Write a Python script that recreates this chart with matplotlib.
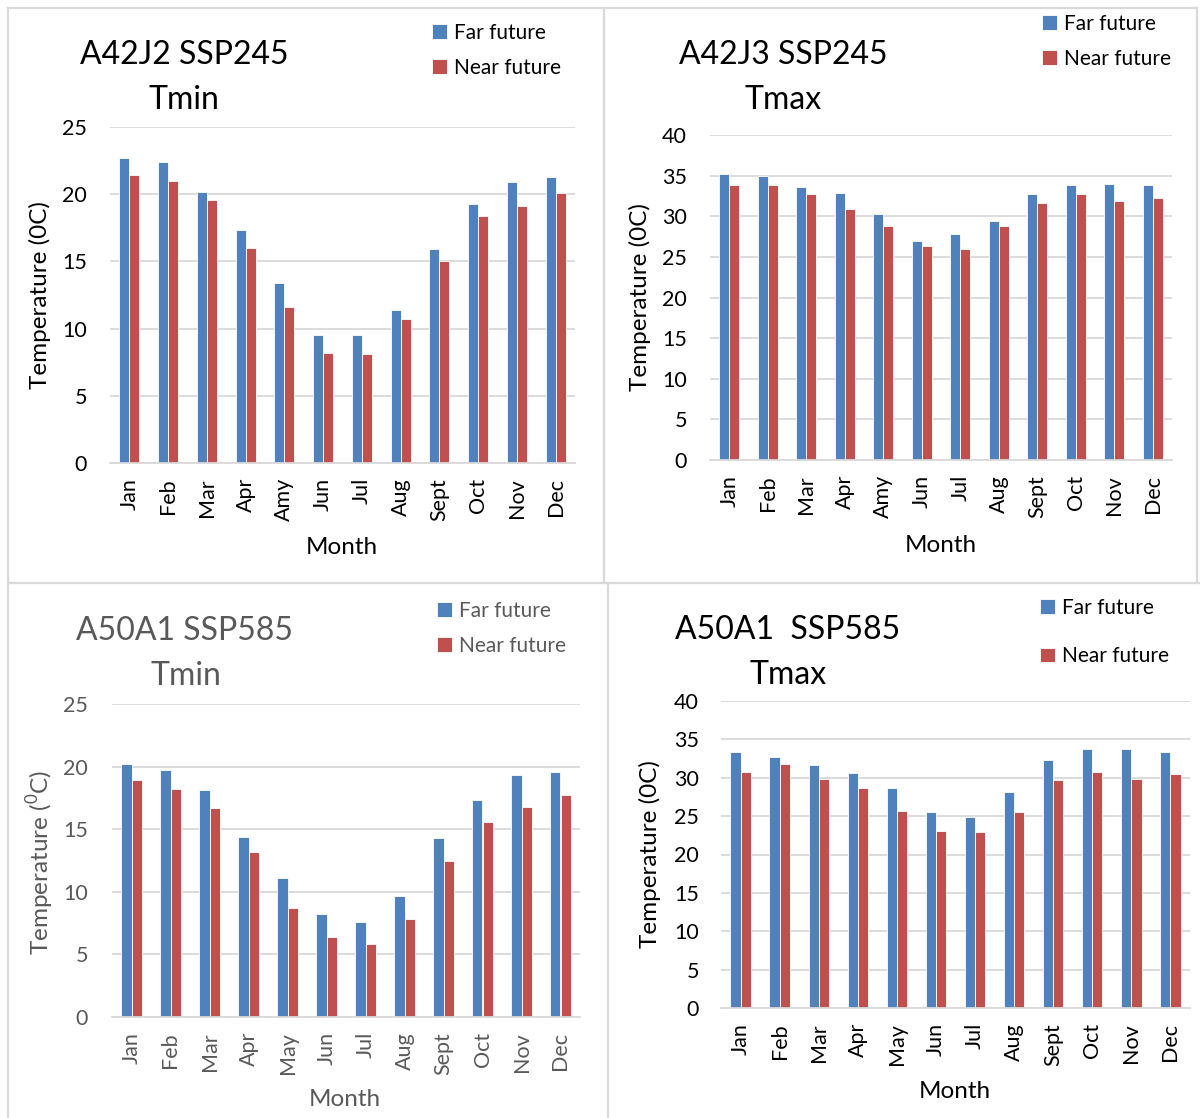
import numpy as np
import matplotlib
matplotlib.use("Agg")
import matplotlib.pyplot as plt
from matplotlib.lines import Line2D

plt.rcParams['font.family'] = ['Lato', 'DejaVu Sans']
plt.rcParams['mathtext.fontset'] = 'custom'
plt.rcParams['mathtext.rm'] = 'Lato'

# monthly mean temperatures, far future vs near future
months_a = ["Jan", "Feb", "Mar", "Apr", "Amy", "Jun", "Jul", "Aug", "Sept", "Oct", "Nov", "Dec"]
months_b = ["Jan", "Feb", "Mar", "Apr", "May", "Jun", "Jul", "Aug", "Sept", "Oct", "Nov", "Dec"]

a42j2_tmin_far = [22.7, 22.4, 20.2, 17.3, 13.4, 9.5, 9.5, 11.4, 15.9, 19.3, 20.9, 21.3]
a42j2_tmin_near = [21.4, 21.0, 19.6, 16.0, 11.6, 8.2, 8.1, 10.7, 15.0, 18.4, 19.1, 20.1]

a42j3_tmax_far = [35.2, 34.9, 33.6, 32.9, 30.3, 27.0, 27.8, 29.4, 32.7, 33.9, 34.0, 33.9]
a42j3_tmax_near = [33.9, 33.8, 32.8, 30.9, 28.8, 26.4, 26.0, 28.8, 31.6, 32.8, 31.9, 32.2]

a50a1_tmin_far = [20.2, 19.7, 18.1, 14.4, 11.1, 8.2, 7.6, 9.7, 14.3, 17.3, 19.3, 19.6]
a50a1_tmin_near = [18.9, 18.2, 16.7, 13.2, 8.7, 6.4, 5.8, 7.8, 12.5, 15.6, 16.8, 17.7]

a50a1_tmax_far = [33.3, 32.7, 31.7, 30.6, 28.6, 25.5, 24.9, 28.2, 32.3, 33.7, 33.7, 33.3]
a50a1_tmax_near = [30.8, 31.8, 29.8, 28.7, 25.7, 23.0, 22.9, 25.6, 29.7, 30.8, 29.8, 30.5]

W, H = 1200, 1118
BLUE = "#4F81BD"
RED = "#C0504D"
GRID = "#D9D9D9"

fig = plt.figure(figsize=(W / 100, H / 100), dpi=100)


def fx(px):
    return px / W


def fy(py):
    return 1 - py / H


def panel(box, months, far, near, ymax, title, sub, ylab, tcol, ttl, legend_pos, leg_space,
          ylab_pos, month_pos, ypad, xpad):
    l, t, r, b = box
    ax = fig.add_axes([fx(l), fy(b), fx(r) - fx(l), fy(t) - fy(b)])
    x = np.arange(len(months))
    w = 0.26
    ax.bar(x - w / 2, far, w, color=BLUE, edgecolor="white", linewidth=0.6, label="Far future")
    ax.bar(x + w / 2, near, w, color=RED, edgecolor="white", linewidth=0.6, label="Near future")
    ax.set_xlim(-0.5, len(months) - 0.5)
    ax.set_ylim(0, ymax)
    ax.set_yticks(np.arange(0, ymax + 1, 5))
    ax.set_xticks(x)
    ax.set_xticklabels(months, rotation=90, fontsize=15.5, color=tcol)
    # pads given in pixels, tick_params wants points
    ax.tick_params(axis="y", length=0, pad=ypad * 0.72, labelsize=15.5, labelcolor=tcol)
    ax.tick_params(axis="x", length=0, pad=xpad * 0.72)
    ax.yaxis.grid(True, color=GRID, linewidth=1.3)
    ax.set_axisbelow(True)
    for s in ["left", "right", "top"]:
        ax.spines[s].set_visible(False)
    ax.spines["bottom"].set_color(GRID)
    ax.spines["bottom"].set_linewidth(1.3)

    fig.text(fx(ttl[0]), fy(ttl[1]), title, fontsize=23, color=tcol, ha="center", va="center")
    fig.text(fx(ttl[2]), fy(ttl[3]), sub, fontsize=23, color=tcol, ha="center", va="center")
    fig.text(fx(ylab_pos[0]), fy(ylab_pos[1]), ylab, fontsize=17.5, color=tcol,
             rotation=90, ha="center", va="center")
    fig.text(fx(month_pos[0]), fy(month_pos[1]), "Month", fontsize=17.5, color=tcol,
             ha="center", va="center")

    leg = ax.legend(loc="upper left", bbox_to_anchor=(fx(legend_pos[0]), fy(legend_pos[1])),
                    bbox_transform=fig.transFigure, frameon=False, fontsize=15,
                    handlelength=0.7, handleheight=0.7, handletextpad=0.35,
                    labelspacing=leg_space, borderpad=0, borderaxespad=0)
    for txt in leg.get_texts():
        txt.set_color(tcol)
    return ax


panel((110, 127, 575, 463), months_a, a42j2_tmin_far, a42j2_tmin_near, 25,
      "A42J2 SSP245", "Tmin", "Temperature (0C)", "black", (184, 55, 184, 100),
      (432, 23), 0.72, (40, 295), (342, 548), 23, 15)

panel((710, 135, 1172, 460), months_a, a42j3_tmax_far, a42j3_tmax_near, 40,
      "A42J3 SSP245", "Tmax", "Temperature (0C)", "black", (783, 55, 783, 100),
      (1042, 14), 0.72, (640, 297), (941, 546), 23, 15)

panel((112, 704, 580, 1017), months_b, a50a1_tmin_far, a50a1_tmin_near, 25,
      "A50A1 SSP585", "Tmin", "Temperature ($^{0}$C)", "#595959", (185, 631, 186, 676),
      (437, 601), 0.72, (40, 862), (345, 1100), 24, 15)

panel((721, 701, 1190, 1008), months_b, a50a1_tmax_far, a50a1_tmax_near, 40,
      "A50A1  SSP585", "Tmax", "Temperature (0C)", "black", (788, 630, 788, 675),
      (1040, 598), 1.35, (650, 854), (955, 1092), 22, 15)

# chart frames
frames = [
    ((7.5, 1197), (7.5, 7.5)),
    ((7.5, 7.5), (7.5, 1118)),
    ((603.5, 603.5), (7.5, 582.7)),
    ((1197, 1197), (7.5, 582.7)),
    ((7.5, 1200), (582.7, 582.7)),
    ((608, 608), (582.7, 1118)),
]
for xs, ys in frames:
    fig.add_artist(Line2D([fx(v) for v in xs], [fy(v) for v in ys], color=GRID, linewidth=1.6))

fig.savefig("out.png", dpi=100)
